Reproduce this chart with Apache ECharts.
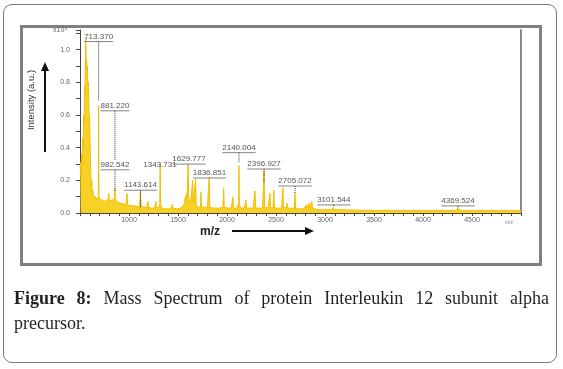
<!DOCTYPE html>
<html>
<head>
<meta charset="utf-8">
<script src="https://cdn.jsdelivr.net/npm/echarts@6/dist/echarts.min.js"></script>
<style>
    html, body { margin: 0; padding: 0; background: #fff; }
    #page { position: relative; width: 563px; height: 369px; overflow: hidden; }
    #card {
        position: absolute; left: 3px; top: 4px; width: 554px; height: 359px;
        box-sizing: border-box; border: 1px solid #7a7a7a; border-radius: 9px;
    }
    #frame {
        position: absolute; left: 20px; top: 25px; width: 522px; height: 241px;
        box-sizing: border-box; border: 3px solid #808080;
    }
    #chart { position: absolute; left: 0; top: 0; width: 563px; height: 369px; }
    .cap {
        position: absolute; left: 14px; width: 535px;
        font-family: "Liberation Serif", "DejaVu Serif", serif;
        font-size: 18px; line-height: 25px; color: #231f20;
        white-space: nowrap;
    }
    #cap1 { top: 286px; text-align: justify; text-align-last: justify; }
    #cap2 { top: 311px; text-align: left; }
</style>
</head>
<body>
<div id="page">
    <div id="card"></div>
    <div id="frame"></div>
    <div id="chart"></div>
    <div class="cap" id="cap1"><b>Figure 8:</b> Mass Spectrum of protein Interleukin 12 subunit alpha</div>
    <div class="cap" id="cap2">precursor.</div>
</div>
<script>
// spectrum (m/z, intensity x10^4)
let specMz = [
    500, 506, 511, 516, 521, 527, 532, 537, 542, 547, 551, 555, 559, 563, 567, 571, 575, 579, 583, 587,
    591, 595, 599, 603, 607, 611, 615, 620, 625, 631, 637, 644, 652, 660, 668, 676, 684, 687, 690, 693,
    700, 708, 716, 724, 732, 742, 752, 762, 772, 782, 790, 795, 800, 812, 824, 836, 846, 852, 857, 862,
    872, 884, 896, 908, 920, 932, 946, 958, 970, 976, 980, 984, 994, 1008, 1022, 1036, 1050, 1064, 1080, 1094,
    1108, 1114, 1118, 1122, 1134, 1150, 1166, 1180, 1190, 1194, 1198, 1212, 1230, 1246, 1260, 1272, 1276, 1280, 1296, 1308,
    1314, 1318, 1322, 1332, 1350, 1370, 1390, 1410, 1430, 1438, 1442, 1446, 1466, 1486, 1506, 1526, 1546, 1560, 1568, 1574,
    1580, 1586, 1592, 1598, 1604, 1608, 1614, 1620, 1628, 1636, 1644, 1650, 1654, 1662, 1670, 1680, 1686, 1696, 1706, 1716,
    1730, 1735, 1740, 1756, 1770, 1786, 1800, 1812, 1818, 1824, 1840, 1858, 1876, 1894, 1910, 1926, 1944, 1958, 1966, 1972,
    1990, 2008, 2026, 2044, 2056, 2061, 2066, 2082, 2098, 2110, 2118, 2122, 2126, 2140, 2160, 2176, 2190, 2194, 2198, 2214,
    2232, 2250, 2266, 2280, 2286, 2292, 2310, 2328, 2346, 2362, 2372, 2378, 2384, 2400, 2420, 2434, 2439, 2444, 2456, 2470,
    2478, 2484, 2500, 2520, 2540, 2556, 2566, 2571, 2576, 2592, 2606, 2612, 2618, 2636, 2656, 2674, 2688, 2694, 2700, 2720,
    2740, 2760, 2780, 2800, 2812, 2818, 2830, 2838, 2844, 2858, 2866, 2872, 2890, 2920, 2950, 2980, 3010, 3040, 3070, 3080,
    3085, 3090, 3120, 3140, 3160, 3200, 3260, 3320, 3380, 3440, 3500, 3560, 3620, 3680, 3740, 3800, 3860, 3920, 3980, 4040,
    4100, 4160, 4220, 4280, 4340, 4352, 4357, 4362, 4400, 4460, 4520, 4580, 4640, 4700, 4760, 4820, 4880, 4940, 5000
];
let specInt = [
    0.28, 0.31, 0.22, 0.36, 0.3, 0.46, 0.4, 0.6, 0.55, 0.78, 0.72, 0.95, 1.07, 0.9, 0.94, 0.86, 0.9, 0.8, 0.78, 0.8,
    0.62, 0.6, 0.56, 0.42, 0.31, 0.22, 0.16, 0.2, 0.12, 0.14, 0.1, 0.11, 0.09, 0.1, 0.08, 0.09, 0.08, 0.1, 0.66, 0.1,
    0.09, 0.08, 0.09, 0.07, 0.08, 0.07, 0.08, 0.07, 0.07, 0.08, 0.09, 0.12, 0.07, 0.07, 0.08, 0.07, 0.08, 0.1, 0.15, 0.09,
    0.07, 0.06, 0.065, 0.055, 0.06, 0.05, 0.055, 0.05, 0.05, 0.06, 0.12, 0.06, 0.045, 0.05, 0.045, 0.04, 0.045, 0.04, 0.04, 0.045,
    0.04, 0.05, 0.14, 0.05, 0.04, 0.035, 0.04, 0.035, 0.04, 0.07, 0.035, 0.035, 0.03, 0.035, 0.03, 0.035, 0.07, 0.03, 0.03, 0.035,
    0.06, 0.3, 0.06, 0.03, 0.03, 0.025, 0.03, 0.025, 0.03, 0.035, 0.055, 0.03, 0.025, 0.025, 0.03, 0.03, 0.035, 0.05, 0.07, 0.1,
    0.08, 0.12, 0.09, 0.1, 0.3, 0.1, 0.08, 0.09, 0.06, 0.07, 0.06, 0.2, 0.06, 0.05, 0.05, 0.21, 0.05, 0.04, 0.035, 0.04,
    0.04, 0.13, 0.035, 0.03, 0.035, 0.03, 0.035, 0.04, 0.22, 0.035, 0.03, 0.03, 0.03, 0.03, 0.035, 0.03, 0.03, 0.035, 0.15, 0.035,
    0.03, 0.03, 0.03, 0.03, 0.035, 0.1, 0.03, 0.03, 0.03, 0.035, 0.06, 0.29, 0.05, 0.03, 0.03, 0.03, 0.035, 0.08, 0.03, 0.03,
    0.03, 0.03, 0.03, 0.035, 0.135, 0.03, 0.03, 0.03, 0.03, 0.03, 0.04, 0.26, 0.035, 0.03, 0.03, 0.035, 0.12, 0.03, 0.03, 0.035,
    0.14, 0.03, 0.03, 0.03, 0.03, 0.03, 0.04, 0.155, 0.035, 0.03, 0.03, 0.06, 0.03, 0.025, 0.03, 0.025, 0.03, 0.12, 0.03, 0.025,
    0.025, 0.025, 0.025, 0.03, 0.05, 0.03, 0.03, 0.06, 0.03, 0.035, 0.07, 0.03, 0.025, 0.02, 0.02, 0.02, 0.02, 0.02, 0.02, 0.02,
    0.035, 0.02, 0.02, 0.025, 0.02, 0.02, 0.018, 0.018, 0.015, 0.018, 0.015, 0.015, 0.018, 0.015, 0.015, 0.015, 0.015, 0.015, 0.015, 0.015,
    0.015, 0.015, 0.015, 0.015, 0.015, 0.02, 0.035, 0.02, 0.015, 0.015, 0.015, 0.015, 0.015, 0.015, 0.015, 0.015, 0.015, 0.015, 0.015
];

// peak labels: text, m/z of label/line, label height, end of dotted line (-1 = none)
let annoText = ['713.370', '881.220', '982.542', '1143.614', '1343.731', '1629.777', '1836.851', '2140.004', '2396.927', '2705.072', '3101.544', '4369.524'];
let annoMz = [690, 857, 857, 1117, 1316, 1612, 1821, 2122, 2378, 2694, 3090, 4357];
let annoY = [1.08, 0.656, 0.295, 0.17, 0.295, 0.33, 0.245, 0.40, 0.30, 0.196, 0.08, 0.074];
let annoEnd = [0.69, 0.32, 0.135, 0.03, -1, -1, -1, 0.307, 0.19, 0.123, 0.037, 0.03];
let annoLine = [true, true, true, true, false, true, true, true, true, true, true, true];

let ctx = document.createElement('canvas').getContext('2d');
ctx.font = '8px "Liberation Sans"';
function textWidth(t) {
    return ctx.measureText(t).width;
}

let myChart = echarts.init(document.getElementById('chart'));

let spectrum = specMz.map((m, i) => [m, specInt[i]]);
let annos = annoMz.map((m, i) => [m, annoY[i], annoEnd[i], i]);

function renderAnno(params, api) {
    let i = api.value(3);
    let p = api.coord([api.value(0), api.value(1)]);
    let w = textWidth(annoText[i]);
    let children = [{
        type: 'text',
        style: {
            text: annoText[i],
            x: p[0],
            y: p[1],
            align: 'center',
            verticalAlign: 'middle',
            fontSize: 8,
            fontFamily: 'Liberation Sans',
            fill: '#555'
        }
    }];
    if (annoLine[i]) {
        children.push({
            type: 'line',
            shape: { x1: p[0] - w / 2, y1: p[1] + 5, x2: p[0] + w / 2, y2: p[1] + 5 },
            style: { stroke: '#666', lineWidth: 0.8 }
        });
    }
    let end = api.value(2);
    if (end >= 0) {
        let q = api.coord([api.value(0), end]);
        children.push({
            type: 'line',
            shape: { x1: p[0], y1: p[1] + 5, x2: p[0], y2: q[1] },
            style: { stroke: '#333', lineWidth: 1, lineDash: [1, 1] }
        });
    }
    return { type: 'group', children: children };
}

let option = {
    animation: false,
    grid: { left: 80, right: 42, top: 30, bottom: 156 },
    xAxis: {
        type: 'value',
        min: 500,
        max: 5000,
        interval: 100,
        splitLine: { show: false },
        axisLine: { lineStyle: { color: '#444', width: 1 } },
        axisTick: { length: 3, lineStyle: { color: '#444' } },
        axisLabel: {
            margin: 4,
            fontSize: 7,
            color: '#666',
            fontFamily: 'Liberation Sans',
            formatter: v => (v % 500 === 0 && v !== 500 && v !== 5000) ? String(v) : ''
        }
    },
    yAxis: [{
        type: 'value',
        min: 0,
        max: 1.12,
        interval: 0.1,
        splitLine: { show: false },
        axisLine: { show: true, lineStyle: { color: '#444', width: 1 } },
        axisTick: { show: true, length: 4, lineStyle: { color: '#444' } },
        axisLabel: {
            margin: 10,
            fontSize: 7,
            color: '#666',
            fontFamily: 'Liberation Sans',
            formatter: v => {
                let k = Math.round(v * 10);
                if (Math.abs(v * 10 - k) > 1e-6 || k % 2) return '';
                return v.toFixed(1);
            }
        }
    }, {
        type: 'value',
        position: 'right',
        min: 0,
        max: 1.12,
        splitLine: { show: false },
        axisLine: { show: true, lineStyle: { color: '#888', width: 2 } },
        axisTick: { show: false },
        axisLabel: { show: false }
    }],
    series: [{
        type: 'line',
        data: spectrum,
        showSymbol: false,
        lineStyle: { color: '#f3bf00', width: 1 },
        areaStyle: { color: '#f7c900', opacity: 0.85 },
        z: 2
    }, {
        type: 'custom',
        data: annos,
        renderItem: renderAnno,
        clip: false,
        z: 5
    }],
    graphic: [
        {
            type: 'text', left: 53, top: 27,
            style: { text: 'x10⁴', fontSize: 7, fill: '#666', fontFamily: 'Liberation Sans' }
        },
        {
            type: 'text', left: 505, top: 220,
            style: { text: 'm/z', fontSize: 5, fill: '#888', fontFamily: 'Liberation Sans' }
        },
        {
            type: 'text', x: 31, y: 100, rotation: Math.PI / 2,
            style: {
                text: 'Intensity (a.u.)', fontSize: 9.5, fill: '#333', fontFamily: 'Liberation Sans',
                align: 'center', verticalAlign: 'middle'
            }
        },
        {
            type: 'line', shape: { x1: 45, y1: 152, x2: 45, y2: 70 },
            style: { stroke: '#111', lineWidth: 2 }
        },
        {
            type: 'polygon', shape: { points: [[45, 62], [41, 71], [49, 71]] },
            style: { fill: '#111' }
        },
        {
            type: 'text', x: 210, y: 232,
            style: {
                text: 'm/z', fontSize: 12, fontWeight: 'bold', fill: '#222', fontFamily: 'Liberation Sans',
                align: 'center', verticalAlign: 'middle'
            }
        },
        {
            type: 'line', shape: { x1: 232, y1: 231, x2: 306, y2: 231 },
            style: { stroke: '#111', lineWidth: 2 }
        },
        {
            type: 'polygon', shape: { points: [[314, 231], [305, 227], [305, 235]] },
            style: { fill: '#111' }
        }
    ]
};

myChart.setOption(option);
</script>
</body>
</html>
